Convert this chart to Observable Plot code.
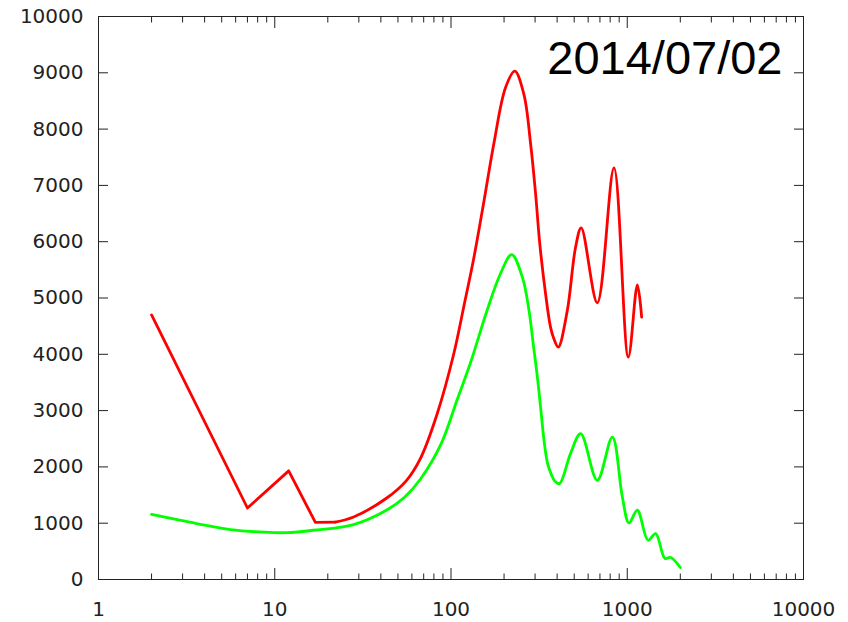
<!DOCTYPE html>
<html><head><meta charset="utf-8">
<script src="https://cdn.jsdelivr.net/npm/d3@7"></script>
<script src="https://cdn.jsdelivr.net/npm/@observablehq/plot@0.6"></script>
<style>body{margin:0;background:#fff}</style>
</head><body><div id="chart"></div>
<script>
const title = "2014/07/02";
const xMajorTicks = [1, 10, 100, 1000, 10000];
const xMinorTicks = [2,3,4,5,6,7,8,9, 20,30,40,50,60,70,80,90, 200,300,400,500,600,700,800,900, 2000,3000,4000,5000,6000,7000,8000,9000];
const yTicks = [0, 1000, 2000, 3000, 4000, 5000, 6000, 7000, 8000, 9000, 10000];

// red series: low-l binned part (straight segments) and smooth part
const redBinnedL = [2, 7, 12, 17, 22];
const redBinnedD = [4700, 1270, 1930, 1015, 1020];
const redL = [22, 28, 43, 56, 67, 83.5, 103.7, 118, 135, 153, 175, 204, 230, 259, 283, 302, 319, 344, 367, 383, 406, 457, 509, 548, 676, 841, 1014, 1141, 1207];
const redD = [1020, 1111, 1443, 1762, 2147, 2945, 4010, 4837, 5724, 6677, 7741, 8740, 9030, 8623, 7736, 6849, 5962, 5075, 4482, 4280, 4127, 4778, 5901, 6246, 4915, 7310, 3950, 5234, 4659];

// green series
const greenL = [2, 3.6, 5.6, 8.7, 11.7, 16.6, 28, 43, 54.5, 67, 88, 108, 129, 161, 191, 221, 254, 277, 295, 309, 325, 337, 352, 367, 390, 413, 477, 544, 676, 823, 938, 1023, 1141, 1312, 1449, 1637, 1763, 2000];
const greenD = [1155, 994, 887, 840, 832, 875, 976, 1230, 1460, 1780, 2413, 3181, 3850, 4800, 5435, 5772, 5370, 4780, 4100, 3600, 2950, 2472, 2080, 1900, 1740, 1703, 2241, 2590, 1762, 2530, 1466, 1004, 1230, 697, 816, 373, 390, 213];

const axisColor = "#222";
const chart = Plot.plot({
  width: 848, height: 622,
  marginLeft: 98, marginRight: 45, marginTop: 16, marginBottom: 43,
  style: {fontFamily: "DejaVu Sans", fontSize: "20px", color: axisColor, background: "#fff"},
  x: {type: "log", domain: [1, 10000]},
  y: {domain: [0, 10000]},
  marks: [
    // labels
    Plot.axisY({anchor: "left", ticks: yTicks, tickFormat: d => String(d), tickSize: 0, tickPadding: 15, label: null, fontSize: 20, fill: axisColor}),
    Plot.axisX({anchor: "bottom", ticks: xMajorTicks, tickFormat: d => String(d), tickSize: 0, tickPadding: 22, label: null, fontSize: 20, fill: axisColor}),
    // inward ticks
    Plot.axisY({anchor: "left", ticks: yTicks.slice(1, -1), tickSize: -10, fill: "none", stroke: axisColor, label: null}),
    Plot.axisY({anchor: "right", ticks: yTicks.slice(1, -1), tickSize: -10, fill: "none", stroke: axisColor, label: null}),
    Plot.axisX({anchor: "bottom", ticks: xMajorTicks.slice(1, -1), tickSize: -11, fill: "none", stroke: axisColor, label: null}),
    Plot.axisX({anchor: "bottom", ticks: xMinorTicks, tickSize: -5.5, fill: "none", stroke: axisColor, label: null}),
    Plot.axisX({anchor: "top", ticks: xMajorTicks.slice(1, -1), tickSize: -11, fill: "none", stroke: axisColor, label: null}),
    Plot.axisX({anchor: "top", ticks: xMinorTicks, tickSize: -5.5, fill: "none", stroke: axisColor, label: null}),
    Plot.frame({stroke: axisColor, strokeWidth: 1}),
    Plot.line(redBinnedL, {x: redBinnedL, y: redBinnedD, stroke: "#ff0000", strokeWidth: 2.8}),
    Plot.line(redL, {x: redL, y: redD, stroke: "#ff0000", strokeWidth: 2.8, curve: "catmull-rom"}),
    Plot.line(greenL, {x: greenL, y: greenD, stroke: "#00ff00", strokeWidth: 2.8, curve: "catmull-rom"}),
    Plot.text([title], {frameAnchor: "top-right", text: d => d, dx: -21, dy: 57, lineAnchor: "bottom", textAnchor: "end", fontFamily: "Liberation Sans", fontSize: 47, fill: "#000"})
  ]
});
document.getElementById("chart").appendChild(chart);
</script>
</body></html>
